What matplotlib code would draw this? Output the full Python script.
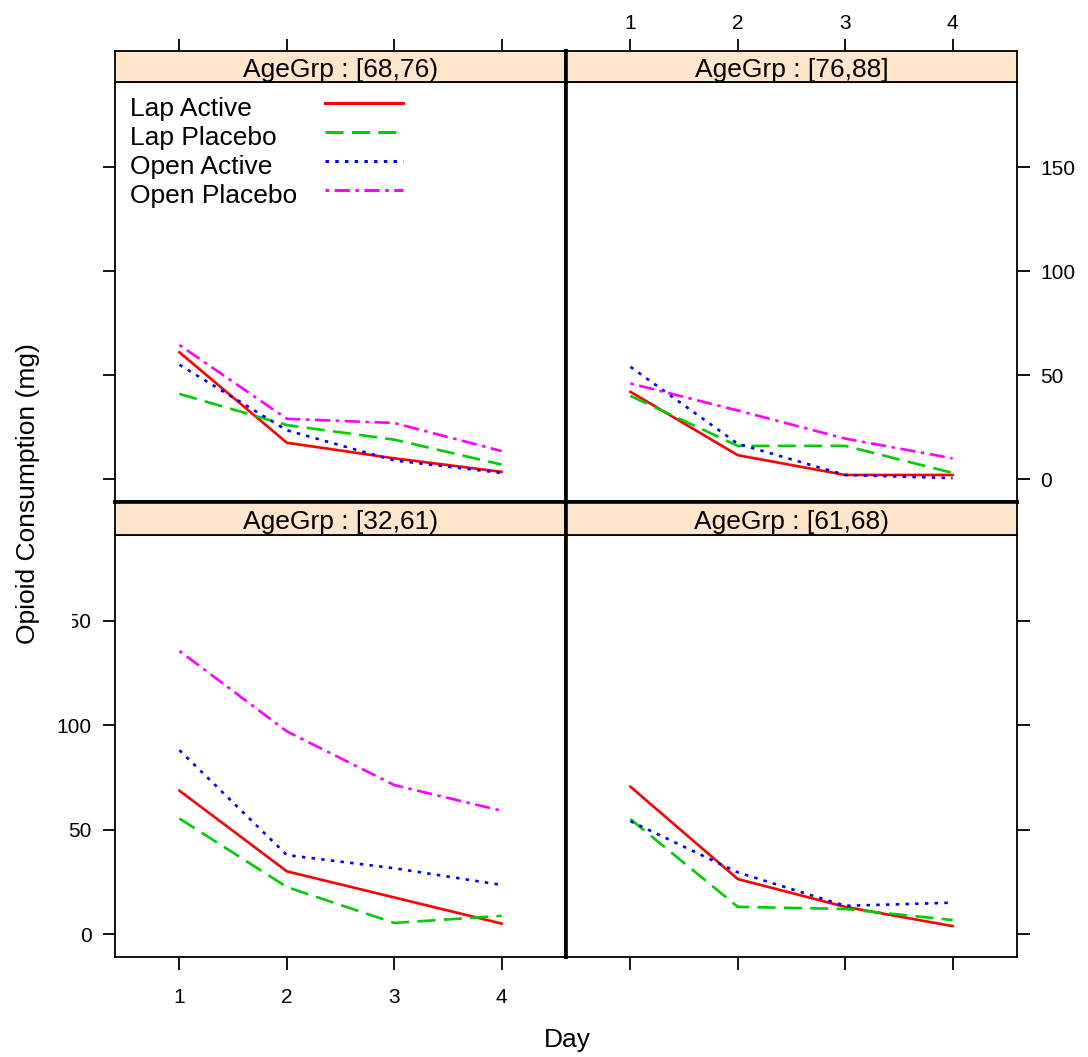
import matplotlib
matplotlib.use("Agg")
import matplotlib.pyplot as plt
from matplotlib.transforms import Bbox, TransformedBbox

plt.rcParams['font.family'] = ['Liberation Sans', 'DejaVu Sans']
plt.rcParams['lines.scale_dashes'] = False

# ---- data ----
days = [1, 2, 3, 4]
strip_labels = ["AgeGrp : [68,76)", "AgeGrp : [76,88]",
                "AgeGrp : [32,61)", "AgeGrp : [61,68)"]
series_names = ["Lap Active", "Lap Placebo", "Open Active", "Open Placebo"]

# one entry per panel, same order as strip_labels
lap_active = [[61, 17.5, 10, 3.5], [42, 11.5, 2, 2],
              [68.6, 30, 17.5, 5], [70.5, 26.3, 13, 3.8]]
lap_placebo = [[41, 26, 19, 7], [40, 16, 16, 3],
               [55.3, 22.5, 5.3, 8.7], [55, 13, 12, 6.7]]
open_active = [[55, 23.5, 9, 3], [54, 17, 2, 0.5],
               [88, 37.8, 31.5, 23.5], [54, 29.5, 13.5, 15]]
open_placebo = [[64.5, 29, 27, 13.5], [46, 33, 19.5, 10],
                [135.5, 97, 71.3, 59], None]

y_ticks = [0, 50, 100, 150]

# ---- styling ----
colors = ["#FF0000", "#00CC00", "#0000FF", "#FF00FF"]
dashes = [None, (13, 6), (2.5, 4.5), (2.5, 4, 11, 4)]
lw = 1.9
strip_col = "#FFE5CC"
tick_fs = 15
txt_fs = 19

W, H = 1088, 1057
fig = plt.figure(figsize=(W / 100, H / 100), dpi=100)


def fr(x0, y0, x1, y1):
    return [x0 / W, 1 - y1 / H, (x1 - x0) / W, (y1 - y0) / H]


cols = [(115, 566), (566, 1017)]
rows = [(82, 502), (535, 957)]
strips = [(51, 82), (502, 535)]
xlim = (0.4, 4.6)
ylim = (-11, 191)

all_series = [lap_active, lap_placebo, open_active, open_placebo]

for i in range(4):
    r, c = divmod(i, 2)
    ax = fig.add_axes(fr(cols[c][0], rows[r][0], cols[c][1], rows[r][1]))
    sx = fig.add_axes(fr(cols[c][0], strips[r][0], cols[c][1], strips[r][1]))
    for k, s in enumerate(all_series):
        if s[i] is None:
            continue
        ln, = ax.plot(days, s[i], color=colors[k], lw=lw)
        if dashes[k] is not None:
            ln.set_dashes(dashes[k])
    ax.set_xlim(*xlim)
    ax.set_ylim(*ylim)
    sx.set_xlim(*xlim)
    sx.set_ylim(0, 1)
    sx.set_facecolor(strip_col)
    sx.text(0.5, 0.40, strip_labels[i], ha="center", va="center",
            fontsize=txt_fs, transform=sx.transAxes)
    sx.set_yticks([])

    for sp in list(ax.spines.values()) + list(sx.spines.values()):
        sp.set_linewidth(1.3)
    # thick inner borders
    if c == 0:
        ax.spines["right"].set_linewidth(2.6)
        sx.spines["right"].set_linewidth(2.6)
    else:
        ax.spines["left"].set_linewidth(2.6)
        sx.spines["left"].set_linewidth(2.6)
    if r == 0:
        ax.spines["bottom"].set_linewidth(2.6)
    else:
        sx.spines["top"].set_linewidth(2.6)

    tp = dict(direction="out", length=9, width=1.3, labelsize=tick_fs, pad=8)
    ax.tick_params(**tp)
    sx.tick_params(**tp)
    ax.tick_params(axis="x", pad=13)
    sx.tick_params(axis="x", pad=4)
    ax.set_xticks(days)
    sx.set_xticks(days)
    ax.set_yticks(y_ticks)

    # x ticks: top row on strip top, bottom row on panel bottom
    if r == 0:
        ax.tick_params(axis="x", bottom=False, labelbottom=False)
        sx.tick_params(axis="x", bottom=False, labelbottom=False,
                       top=True, labeltop=(c == 1))
    else:
        sx.tick_params(axis="x", bottom=False, labelbottom=False)
        ax.tick_params(axis="x", labelbottom=(c == 0))
    # y ticks: left column on left, right column on right
    if c == 0:
        ax.tick_params(axis="y", labelleft=(r == 1), right=False)
    else:
        ax.tick_params(axis="y", left=False, labelleft=False,
                       right=True, labelright=(r == 0))

    if i == 2:
        # the "150" label is cut off at the left in the original
        fig.canvas.draw()
        for lab in ax.get_yticklabels():
            if lab.get_text() == "150":
                lab.set_clip_on(True)
                lab.set_clip_box(TransformedBbox(
                    Bbox([[72 / W, 0], [1, 1]]), fig.transFigure))

    if i == 0:
        # legend inside top-left panel
        leg_y = [103, 132, 161, 190]
        for k, name in enumerate(series_names):
            yf = 1 - leg_y[k] / H
            fig.text(130 / W, yf - 6 / H, name, fontsize=txt_fs,
                     ha="left", va="center")
            ln = plt.Line2D([325 / W, 403 / W], [yf, yf], color=colors[k],
                            lw=2.2, transform=fig.transFigure)
            if dashes[k] is not None:
                ln.set_dashes(dashes[k])
            fig.add_artist(ln)

fig.text(28 / W, 1 - 494 / H, "Opioid Consumption (mg)", rotation=90,
         ha="center", va="center", fontsize=txt_fs)
fig.text(567 / W, 1 - 1040 / H, "Day", ha="center", va="center",
         fontsize=txt_fs)

fig.savefig("out.png", dpi=100)
